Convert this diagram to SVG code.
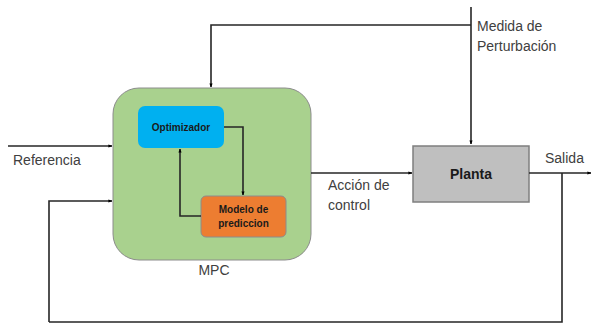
<svg xmlns="http://www.w3.org/2000/svg" width="592" height="324" viewBox="0 0 592 324">
<defs>
<marker id="ah" viewBox="0 0 10 10" refX="9" refY="5" markerWidth="4" markerHeight="4" orient="auto" markerUnits="userSpaceOnUse">
<path d="M0,1 L10,5 L0,9 z" fill="#000"/>
</marker>
<style>
.ln{fill:none;stroke:#262626;stroke-width:1.6}
.lbl{font-family:"Liberation Sans",Arial,sans-serif;font-size:14px;fill:#404040}
.bold{font-family:"Liberation Sans",Arial,sans-serif;font-weight:bold;fill:#1a1a1a}
</style>
</defs>
<rect width="592" height="324" fill="#fff"/>
<g id="mpc">
<rect x="113" y="88" width="198" height="172" rx="26" fill="#A9D18E" stroke="#8c8c8c" stroke-width="1"/>
<text class="lbl" x="214" y="275" text-anchor="middle" font-size="13">MPC</text>
</g>
<g id="optimizador">
<rect x="138" y="106" width="86" height="42" rx="7" fill="#00B0F0"/>
<text class="bold" x="181" y="131" text-anchor="middle" font-size="10">Optimizador</text>
</g>
<g id="modelo">
<rect x="201" y="196" width="85" height="41" rx="5" fill="#ED7D31" stroke="#8c8c8c" stroke-width="1"/>
<text class="bold" x="243.5" y="213" text-anchor="middle" font-size="10">Modelo de</text>
<text class="bold" x="243.5" y="227" text-anchor="middle" font-size="10">prediccion</text>
</g>
<g id="planta">
<rect x="413" y="146" width="116" height="56" fill="#BFBFBF" stroke="#7f7f7f" stroke-width="1.5"/>
<text class="bold" x="471" y="179" text-anchor="middle" font-size="14">Planta</text>
</g>
<g id="connectors">
<polyline class="ln" points="8,146 112,146" marker-end="url(#ah)"/>
<polyline class="ln" points="49,322 49,201 112,201" marker-end="url(#ah)"/>
<polyline class="ln" points="471,7 471,144" marker-end="url(#ah)"/>
<polyline class="ln" points="471,25 211,25 211,87" marker-end="url(#ah)"/>
<polyline class="ln" points="311,173 412,173" marker-end="url(#ah)"/>
<polyline class="ln" points="529,173 591,173" marker-end="url(#ah)"/>
<polyline class="ln" points="562,173 562,322 49,322"/>
<polyline class="ln" points="224,127 243,127 243,195" marker-end="url(#ah)"/>
<polyline class="ln" points="201,216 180,216 180,149" marker-end="url(#ah)"/>
</g>
<g id="labels">
<text class="lbl" x="13" y="165">Referencia</text>
<text class="lbl" x="328" y="190">Acción de</text>
<text class="lbl" x="328" y="210">control</text>
<text class="lbl" x="545" y="163">Salida</text>
<text class="lbl" x="477" y="31">Medida de</text>
<text class="lbl" x="477" y="51">Perturbación</text>
</g>
</svg>
